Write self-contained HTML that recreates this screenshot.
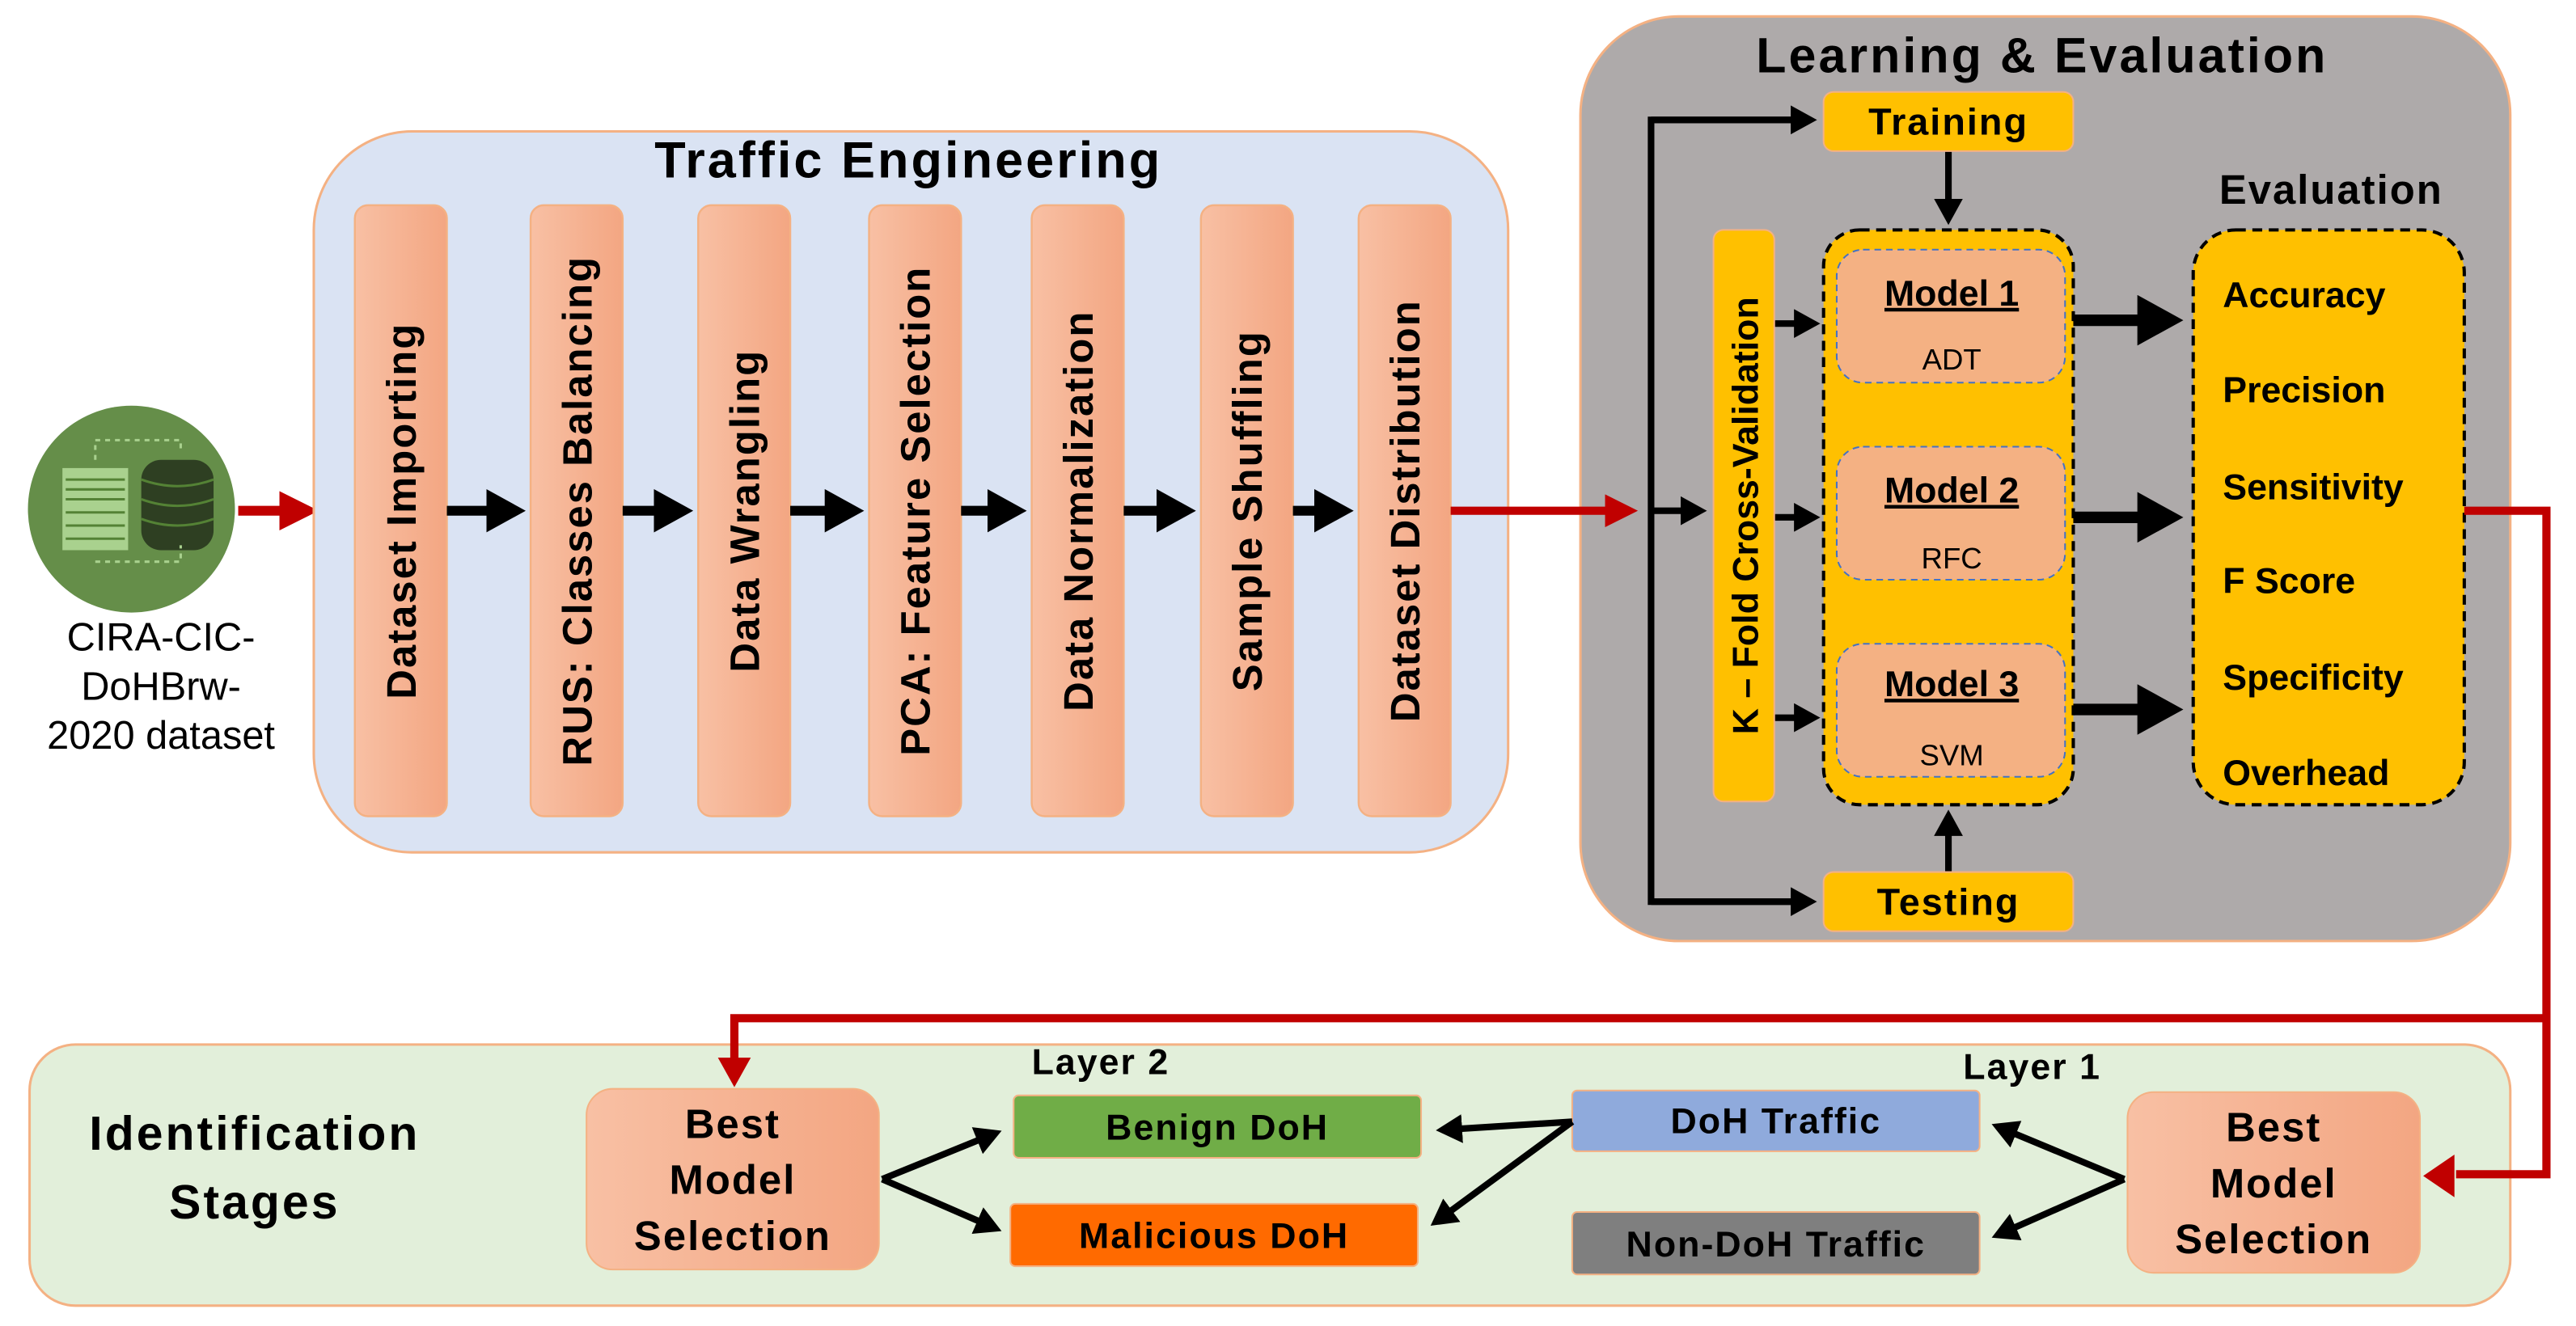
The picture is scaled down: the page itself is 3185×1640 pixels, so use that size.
<!DOCTYPE html>
<html><head><meta charset="utf-8"><style>html,body{margin:0;padding:0;background:#fff}svg{display:block}text{font-family:"Liberation Sans",sans-serif}</style></head><body>
<svg width="3185" height="1640" viewBox="0 0 1568 807.4" preserveAspectRatio="none" xmlns="http://www.w3.org/2000/svg">
<defs>
<linearGradient id="bar" x1="0" x2="1"><stop offset="0" stop-color="#f8c0a4"/><stop offset="1" stop-color="#f3a682"/></linearGradient>
<marker id="ab" markerWidth="4" markerHeight="4.4" refX="3" refY="2.2" orient="auto" markerUnits="strokeWidth"><path d="M0,0 L4,2.2 L0,4.4 Z" fill="#000"/></marker>
<marker id="ar" markerWidth="4" markerHeight="4" refX="3" refY="2" orient="auto" markerUnits="strokeWidth"><path d="M0,0 L4,2 L0,4 Z" fill="#c00000"/></marker>
</defs>
<circle cx="80" cy="310" r="63" fill="#548235" opacity="0.9"/>
<rect x="38" y="285" width="40" height="50" fill="#a9d18e"/>
<g stroke="#548235" stroke-width="1.5"><line x1="40" y1="292" x2="76" y2="292"/><line x1="40" y1="298" x2="76" y2="298"/><line x1="40" y1="304" x2="76" y2="304"/><line x1="40" y1="312" x2="76" y2="312"/><line x1="40" y1="320" x2="76" y2="320"/><line x1="40" y1="328" x2="76" y2="328"/></g>
<rect x="86" y="280" width="44" height="55" rx="12" fill="#2e3f22"/>
<g stroke="#548235" stroke-width="1.5" fill="none"><path d="M86,292 q22,8 44,0"/><path d="M86,304 q22,8 44,0"/><path d="M86,316 q22,8 44,0"/></g>
<path d="M58,280 V268 H110 V275 M58,342 H110 V332" stroke="#a9d18e" stroke-dasharray="3,3" fill="none" stroke-width="1.5"/>
<g font-size="24" text-anchor="middle" fill="#000"><text x="98" y="396">CIRA-CIC-</text><text x="98" y="426">DoHBrw-</text><text x="98" y="456">2020 dataset</text></g>
<line x1="145" y1="311" x2="188" y2="311" stroke="#c00000" stroke-width="6" marker-end="url(#ar)"/>
<rect x="191" y="80" width="727" height="439" rx="60" fill="#dae3f3" stroke="#f4b183" stroke-width="1.5"/>
<text x="553" y="108" font-size="31" font-weight="bold" text-anchor="middle" letter-spacing="1.5">Traffic Engineering</text>
<g stroke="#f4b183" stroke-width="1.2" fill="url(#bar)">
<rect x="216" y="125" width="56" height="372" rx="8"/><rect x="323" y="125" width="56" height="372" rx="8"/><rect x="425" y="125" width="56" height="372" rx="8"/><rect x="529" y="125" width="56" height="372" rx="8"/><rect x="628" y="125" width="56" height="372" rx="8"/><rect x="731" y="125" width="56" height="372" rx="8"/><rect x="827" y="125" width="56" height="372" rx="8"/>
</g>
<g font-size="25" font-weight="bold" text-anchor="middle" letter-spacing="1">
<text transform="translate(253,311) rotate(-90)">Dataset Importing</text>
<text transform="translate(360,311) rotate(-90)">RUS: Classes Balancing</text>
<text transform="translate(462,311) rotate(-90)">Data Wrangling</text>
<text transform="translate(566,311) rotate(-90)">PCA: Feature Selection</text>
<text transform="translate(665,311) rotate(-90)">Data Normalization</text>
<text transform="translate(768,311) rotate(-90)">Sample Shuffling</text>
<text transform="translate(864,311) rotate(-90)">Dataset Distribution</text>
</g>
<g stroke="#000" stroke-width="6" marker-end="url(#ab)">
<line x1="272" y1="311" x2="314" y2="311"/><line x1="379" y1="311" x2="416" y2="311"/><line x1="481" y1="311" x2="520" y2="311"/><line x1="585" y1="311" x2="619" y2="311"/><line x1="684" y1="311" x2="722" y2="311"/><line x1="787" y1="311" x2="818" y2="311"/>
</g>
<rect x="962" y="10" width="566" height="563" rx="60" fill="#aeaaaa" stroke="#f4b183" stroke-width="1.5"/>
<line x1="883" y1="311" x2="992" y2="311" stroke="#c00000" stroke-width="5" marker-end="url(#ar)"/>
<text x="1243" y="44" font-size="30" font-weight="bold" text-anchor="middle" letter-spacing="1.5">Learning &amp; Evaluation</text>
<path d="M1100,73 H1005 V549 H1100" stroke="#000" stroke-width="4" fill="none"/>
<g stroke="#000" stroke-width="4" marker-end="url(#ab)">
<line x1="1005" y1="73" x2="1102" y2="73"/><line x1="1005" y1="549" x2="1102" y2="549"/><line x1="1005" y1="311" x2="1035" y2="311"/>
<line x1="1186" y1="92" x2="1186" y2="133"/><line x1="1186" y1="531" x2="1186" y2="497"/>
<line x1="1080" y1="197" x2="1104" y2="197"/><line x1="1080" y1="315" x2="1104" y2="315"/><line x1="1080" y1="437" x2="1104" y2="437"/>
</g>
<g stroke="#000" stroke-width="7" marker-end="url(#ab)">
<line x1="1260" y1="195" x2="1322" y2="195"/><line x1="1260" y1="315" x2="1322" y2="315"/><line x1="1260" y1="432" x2="1322" y2="432"/>
</g>
<rect x="1110" y="56" width="152" height="36" rx="6" fill="#ffc000" stroke="#f4b183"/>
<text x="1186" y="82" font-size="23" font-weight="bold" text-anchor="middle" letter-spacing="1">Training</text>
<rect x="1110" y="531" width="152" height="36" rx="6" fill="#ffc000" stroke="#f4b183"/>
<text x="1186" y="557" font-size="23" font-weight="bold" text-anchor="middle" letter-spacing="1">Testing</text>
<rect x="1043" y="140" width="37" height="348" rx="6" fill="#ffc000" stroke="#f4b183"/>
<text transform="translate(1070,314) rotate(-90)" font-size="22" font-weight="bold" text-anchor="middle">K – Fold Cross-Validation</text>
<rect x="1110" y="140" width="152" height="350" rx="22" fill="#ffc000" stroke="#000" stroke-width="2" stroke-dasharray="6,4"/>
<g fill="#f4b183" stroke="#4472c4" stroke-width="1" stroke-dasharray="4,3">
<rect x="1118" y="152" width="139" height="81" rx="16"/><rect x="1118" y="272" width="139" height="81" rx="16"/><rect x="1118" y="392" width="139" height="81" rx="16"/>
</g>
<g text-anchor="middle">
<text x="1188" y="186" font-size="22" font-weight="bold" text-decoration="underline">Model 1</text><text x="1188" y="225" font-size="18">ADT</text>
<text x="1188" y="306" font-size="22" font-weight="bold" text-decoration="underline">Model 2</text><text x="1188" y="346" font-size="18">RFC</text>
<text x="1188" y="424" font-size="22" font-weight="bold" text-decoration="underline">Model 3</text><text x="1188" y="466" font-size="18">SVM</text>
</g>
<text x="1419" y="124" font-size="25" font-weight="bold" text-anchor="middle" letter-spacing="1">Evaluation</text>
<rect x="1335" y="140" width="165" height="350" rx="26" fill="#ffc000" stroke="#000" stroke-width="2" stroke-dasharray="6,4"/>
<g font-size="22" font-weight="bold">
<text x="1353" y="187">Accuracy</text><text x="1353" y="245">Precision</text><text x="1353" y="304">Sensitivity</text><text x="1353" y="361">F Score</text><text x="1353" y="420">Specificity</text><text x="1353" y="478">Overhead</text>
</g>
<rect x="18" y="636" width="1510" height="159" rx="28" fill="#e2efda" stroke="#f4b183" stroke-width="1.5"/>
<path d="M1500,311 H1550 V715 H1495" stroke="#c00000" stroke-width="5" fill="none"/>
<path d="M1550,620 H447 V648" stroke="#c00000" stroke-width="5" fill="none"/>
<polygon points="437,644 457,644 447,662" fill="#c00000"/>
<polygon points="1494,703 1494,729 1475,716" fill="#c00000"/>
<g font-size="29" font-weight="bold" text-anchor="middle" letter-spacing="1.5"><text x="155" y="700">Identification</text><text x="155" y="742">Stages</text></g>
<rect x="357" y="663" width="178" height="110" rx="16" fill="url(#bar)" stroke="#f4b183"/>
<g font-size="25" font-weight="bold" text-anchor="middle" letter-spacing="1"><text x="446" y="693">Best</text><text x="446" y="727">Model</text><text x="446" y="761">Selection</text></g>
<rect x="1295" y="665" width="178" height="110" rx="16" fill="url(#bar)" stroke="#f4b183"/>
<g font-size="25" font-weight="bold" text-anchor="middle" letter-spacing="1"><text x="1384" y="695">Best</text><text x="1384" y="729">Model</text><text x="1384" y="763">Selection</text></g>
<rect x="617" y="667" width="248" height="38" rx="3" fill="#70ad47" stroke="#f4b183"/>
<rect x="615" y="733" width="248" height="38" rx="3" fill="#ff6a00" stroke="#f4b183"/>
<rect x="957" y="664" width="248" height="37" rx="3" fill="#8faadc" stroke="#f4b183"/>
<rect x="957" y="738" width="248" height="38" rx="3" fill="#7f7f7f" stroke="#f4b183"/>
<g font-size="22" font-weight="bold" text-anchor="middle" letter-spacing="1">
<text x="741" y="694">Benign DoH</text><text x="739" y="760">Malicious DoH</text><text x="1081" y="690">DoH Traffic</text><text x="1081" y="765">Non-DoH Traffic</text>
<text x="670" y="654">Layer 2</text><text x="1237" y="657">Layer 1</text>
</g>
<g stroke="#000" stroke-width="4" marker-end="url(#ab)" fill="none">
<line x1="537" y1="718" x2="606" y2="690"/><line x1="537" y1="718" x2="606" y2="748"/>
<line x1="957" y1="683" x2="878" y2="688"/><line x1="957" y1="683" x2="874" y2="744"/>
<line x1="1293" y1="718" x2="1216" y2="686"/><line x1="1293" y1="718" x2="1216" y2="752"/>
</g>
</svg>
</body></html>
